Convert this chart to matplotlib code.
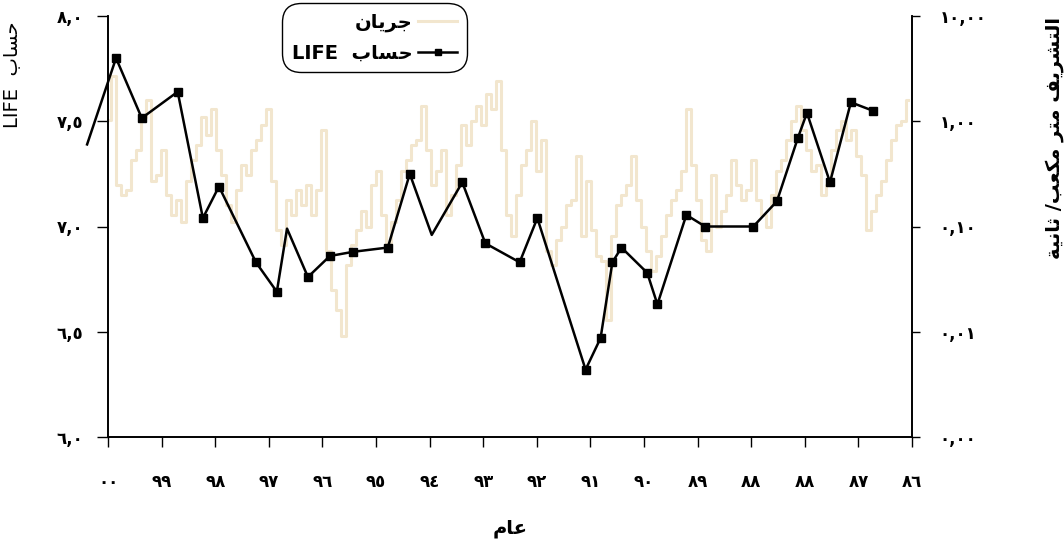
"""
LIFE score (left axis) against monthly flow (right axis, log)
Arabic text is written in presentation forms, in visual order,
because matplotlib does no Arabic shaping / bidi.
"""

import numpy as np
import matplotlib
matplotlib.use("Agg")
import matplotlib.pyplot as plt
from matplotlib.lines import Line2D
from matplotlib.ticker import NullLocator

plt.rcParams['font.family'] = ['DejaVu Sans']

# --- text (Arabic shaped by hand) ---
txt_flow = "\uFEE5\uFE8E\uFEF3\uFEAE\uFE9F"                 # جريان
txt_hesab = "\uFE8F\uFE8E\uFEB4\uFEA3"                      # حساب
txt_year = "\uFEE1\uFE8E\uFECB"                             # عام
txt_q = ("\uFE94\uFEF4\uFEE7\uFE8E\uFE9B" + " /" +          # ثانية
         "\uFE90\uFECC\uFEDC\uFEE3" + " " +                 # مكعب
         "\uFEAE\uFE98\uFEE3" + " " +                       # متر
         "\uFED2\uFEF3\uFEAE\uFEB8\uFE98\uFEDF\uFE8D")      # التصريف
txt_life = "LIFE  " + txt_hesab

# --- x axis categories (tick index 0..15, left to right) ---
year_labels = ["00", "99", "98", "97", "96", "95", "94", "93",
               "92", "91", "90", "89", "88", "88", "87", "86"]

# --- LIFE score, positions in tick units ---
life_x = [-0.39, 0.15, 0.63, 1.30, 1.77, 2.07, 2.76, 3.15, 3.34, 3.73,
          4.14, 4.58, 5.22, 5.63, 6.04, 6.61, 7.04, 7.68, 8.01, 8.91,
          9.19, 9.41, 9.58, 10.06, 10.25, 10.79, 11.14, 12.04, 12.48, 12.87,
          13.04, 13.47, 13.86, 14.27]
life_y = [7.39, 7.80, 7.515, 7.64, 7.04, 7.19, 6.83, 6.69, 6.99, 6.76,
          6.86, 6.88, 6.90, 7.25, 6.96, 7.21, 6.92, 6.83, 7.04, 6.32,
          6.47, 6.83, 6.90, 6.78, 6.63, 7.055, 7.00, 7.00, 7.12, 7.42,
          7.54, 7.21, 7.59, 7.55]
life_nomark = [0, 8, 14]

# --- flow (m3/s), monthly ---
flow = [1.02, 2.7, 0.25, 0.20, 0.22, 0.43, 0.53, 1.1, 1.6, 0.27,
        0.31, 0.53, 0.20, 0.13, 0.18, 0.11, 0.27, 0.43, 0.59, 1.1,
        0.74, 1.3, 0.53, 0.31, 0.16, 0.11, 0.22, 0.38, 0.31, 0.53,
        0.66, 0.92, 1.3, 0.27, 0.092, 0.066, 0.18, 0.13, 0.22, 0.16,
        0.25, 0.13, 0.22, 0.82, 0.059, 0.025, 0.016, 0.0092, 0.043, 0.066,
        0.092, 0.14, 0.10, 0.25, 0.34, 0.13, 0.059, 0.11, 0.18, 0.34,
        0.43, 0.59, 0.66, 1.4, 0.53, 0.25, 0.34, 0.53, 0.13, 0.20,
        0.38, 0.92, 0.59, 1.0, 1.4, 0.92, 1.8, 1.3, 2.4, 0.53,
        0.13, 0.082, 0.20, 0.38, 0.53, 1.0, 0.34, 0.66, 0.059, 0.043,
        0.074, 0.10, 0.16, 0.18, 0.47, 0.082, 0.27, 0.092, 0.053, 0.047,
        0.013, 0.082, 0.16, 0.20, 0.25, 0.47, 0.18, 0.10, 0.059, 0.038,
        0.053, 0.082, 0.13, 0.18, 0.22, 0.34, 1.3, 0.38, 0.18, 0.074,
        0.059, 0.31, 0.10, 0.14, 0.20, 0.43, 0.25, 0.18, 0.22, 0.43,
        0.18, 0.13, 0.10, 0.20, 0.34, 0.43, 0.66, 1.0, 1.4, 0.82,
        0.53, 0.34, 0.38, 0.20, 0.25, 0.53, 0.82, 1.0, 0.66, 0.82,
        0.47, 0.31, 0.092, 0.14, 0.20, 0.27, 0.43, 0.66, 0.92, 1.0,
        1.6]
flow_x = np.linspace(0, 14.93, len(flow))

left_ticks = [6.0, 6.5, 7.0, 7.5, 8.0]
right_ticks = [0.001, 0.01, 0.1, 1.0, 10.0]

flow_color = '#F2E6CE'

to_ar = str.maketrans("0123456789", "٠١٢٣٤٥٦٧٨٩")


def ar(s):
    return s.translate(to_ar)


fig = plt.figure(figsize=(10.64, 5.40), dpi=100)
ax = fig.add_axes([108 / 1064, 1 - 437 / 540, 804 / 1064, 421 / 540])
ax2 = ax.twinx()

# flow on the right, log axis
ax2.plot(flow_x, flow, color=flow_color, lw=2.2, drawstyle='steps-mid')
ax2.set_yscale('log')
ax2.set_ylim(0.001, 10)
ax2.set_yticks(right_ticks)
ax2.set_yticklabels([ar(f"{v:.2f}".replace('.', ',')) for v in right_ticks],
                    fontsize=12, fontweight='bold')
ax2.yaxis.set_minor_locator(NullLocator())
ax2.tick_params(axis='y', direction='out', length=6, width=1, pad=14)

# LIFE on the left, drawn above the flow
marks = [i for i in range(len(life_x)) if i not in life_nomark]
ax.plot(life_x, life_y, color='black', lw=1.8, marker='s', markersize=6,
        markevery=marks, clip_on=False, zorder=5)
ax.set_zorder(ax2.get_zorder() + 1)
ax.patch.set_visible(False)

ax.set_xlim(0, 15)
ax.set_ylim(6.0, 8.0)
ax.set_yticks(left_ticks)
ax.set_yticklabels([ar(f"{v:.1f}".replace('.', ',')) for v in left_ticks],
                   fontsize=12, fontweight='bold')
ax.set_xticks(range(len(year_labels)))
ax.set_xticklabels([ar(s) for s in year_labels], fontsize=12, fontweight='bold')
ax.tick_params(axis='y', direction='out', length=8, width=1, pad=10)
ax.tick_params(axis='x', direction='out', length=7, width=1, pad=19)

for a in (ax, ax2):
    a.spines['top'].set_visible(False)
    for s in ('left', 'right', 'bottom'):
        a.spines[s].set_linewidth(1.2)

ax.set_ylabel(txt_life, fontsize=14)
ax.yaxis.set_label_coords(-0.107, 0.86)
ax.set_xlabel(txt_year, fontsize=14, fontweight='bold', labelpad=20)
ax2.set_ylabel(txt_q, fontsize=14, fontweight='bold', rotation=90)
ax2.yaxis.set_label_coords(1.165, 0.71)

handles = [Line2D([], [], color=flow_color, lw=2.2),
           Line2D([], [], color='black', lw=1.8, marker='s', markersize=4)]
leg = ax.legend(handles, [txt_flow, txt_life], loc='upper left',
                bbox_to_anchor=(282 / 1064, 1 - 3 / 540),
                bbox_transform=fig.transFigure, borderaxespad=0,
                markerfirst=False, handlelength=2.0, handletextpad=0.3,
                prop={'size': 14, 'weight': 'bold'},
                borderpad=0.5, labelspacing=0.6, frameon=True,
                fancybox=True, framealpha=1, edgecolor='black')
leg.get_frame().set_boxstyle('round,pad=0,rounding_size=1.0')
leg.get_frame().set_linewidth(1.0)

fig.savefig('out.png', dpi=100)
